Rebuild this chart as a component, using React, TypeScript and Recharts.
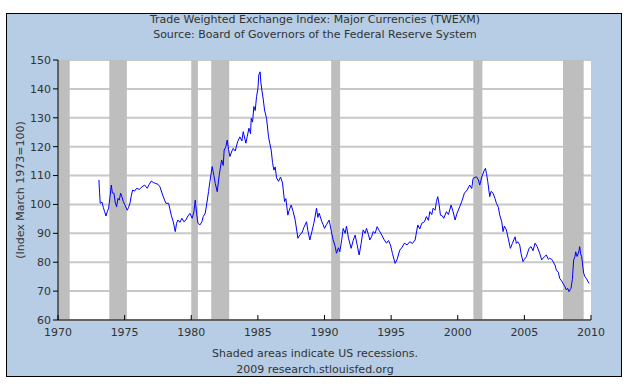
import { CartesianGrid, Line, LineChart, ReferenceArea, XAxis, YAxis } from "recharts";

const dates = [
  1973.07, 1973.12, 1973.17, 1973.3, 1973.4, 1973.5, 1973.6, 1973.7, 1973.8, 1973.9,
  1974.0, 1974.08, 1974.2, 1974.3, 1974.4, 1974.5, 1974.6, 1974.7, 1974.8, 1974.9,
  1975.05, 1975.2, 1975.3, 1975.4, 1975.5, 1975.6, 1975.75, 1975.9,
  1976.1, 1976.3, 1976.5, 1976.7, 1976.85, 1977.0, 1977.15, 1977.3, 1977.5, 1977.65, 1977.85,
  1978.0, 1978.1, 1978.3, 1978.5, 1978.65, 1978.8, 1978.9,
  1979.0, 1979.15, 1979.3, 1979.45, 1979.6, 1979.75, 1979.9,
  1980.07, 1980.2, 1980.3, 1980.4, 1980.5, 1980.65, 1980.8, 1980.9,
  1981.05, 1981.15, 1981.3, 1981.4, 1981.57, 1981.7, 1981.8, 1981.95,
  1982.1, 1982.28, 1982.4, 1982.47, 1982.6, 1982.7, 1982.8, 1982.9,
  1983.05, 1983.15, 1983.3, 1983.48, 1983.65, 1983.8, 1983.9,
  1984.1, 1984.2, 1984.33, 1984.45, 1984.5, 1984.6, 1984.7, 1984.8, 1984.9,
  1985.0, 1985.07, 1985.17, 1985.23, 1985.3, 1985.4, 1985.5, 1985.65, 1985.8, 1985.9,
  1986.0, 1986.1, 1986.2, 1986.3, 1986.4, 1986.55, 1986.7, 1986.85,
  1987.0, 1987.1, 1987.25, 1987.35, 1987.5, 1987.65, 1987.8, 1987.9,
  1988.0, 1988.15, 1988.3, 1988.45, 1988.65, 1988.75, 1988.9,
  1989.05, 1989.2, 1989.3, 1989.4, 1989.5, 1989.6, 1989.8, 1989.9,
  1990.0, 1990.15, 1990.35, 1990.5, 1990.65, 1990.8, 1990.9,
  1991.05, 1991.15, 1991.3, 1991.4, 1991.55, 1991.65, 1991.8,
  1992.0, 1992.15, 1992.3, 1992.45, 1992.6, 1992.75, 1992.9,
  1993.05, 1993.15, 1993.3, 1993.4, 1993.55, 1993.65, 1993.8, 1993.95,
  1994.1, 1994.3, 1994.45, 1994.65, 1994.8, 1994.95,
  1995.1, 1995.3, 1995.45, 1995.65, 1995.8,
  1996.0, 1996.2, 1996.4, 1996.6, 1996.8,
  1997.0, 1997.15, 1997.3, 1997.5, 1997.65, 1997.8, 1997.9,
  1998.05, 1998.15, 1998.3, 1998.4, 1998.5, 1998.6, 1998.7, 1998.85, 1998.95,
  1999.15, 1999.3, 1999.5, 1999.65, 1999.8, 1999.95,
  2000.15, 2000.3, 2000.5, 2000.7, 2000.9,
  2001.05, 2001.15, 2001.4, 2001.55, 2001.65, 2001.8,
  2002.0, 2002.08, 2002.15, 2002.25, 2002.4, 2002.5, 2002.65, 2002.8, 2002.9,
  2003.05, 2003.15, 2003.3, 2003.4, 2003.5, 2003.65, 2003.8, 2003.95,
  2004.1, 2004.3, 2004.4, 2004.5, 2004.65, 2004.75, 2004.9,
  2005.0, 2005.15, 2005.35, 2005.5, 2005.65, 2005.8, 2005.95,
  2006.15, 2006.3, 2006.5, 2006.65, 2006.8, 2006.9,
  2007.05, 2007.15, 2007.3, 2007.4, 2007.55, 2007.65, 2007.8, 2007.9,
  2008.05, 2008.15, 2008.25, 2008.35, 2008.5, 2008.6, 2008.7, 2008.8, 2008.85, 2008.95,
  2009.0, 2009.1, 2009.15, 2009.22, 2009.3, 2009.4, 2009.45, 2009.55, 2009.65, 2009.75, 2009.85,
];

const values = [
  108.5, 104.0, 100.4, 100.8, 99.0, 97.5, 96.0, 97.5, 98.7, 102.5,
  106.7, 104.0, 103.9, 100.5, 99.2, 102.1, 101.5, 103.9, 102.6, 101.0,
  99.5, 98.0, 99.0, 100.4, 103.0, 105.0, 104.6, 105.6,
  105.2, 106.1, 106.7, 105.6, 107.0, 108.1, 107.6, 107.3, 107.0, 106.1, 103.3,
  101.5, 100.4, 100.4, 96.3, 94.0, 90.6, 93.5,
  94.6, 93.8, 95.2, 94.0, 94.6, 96.0, 96.9,
  95.2, 97.5, 101.5, 97.0, 93.5, 92.9, 94.0, 95.8,
  97.0, 99.8, 104.5, 107.9, 113.1, 110.0, 107.3, 104.4,
  110.2, 115.4, 113.5, 118.8, 120.0, 122.3, 119.0, 116.6,
  118.5, 119.4, 118.5, 121.7, 123.4, 122.0, 125.2,
  121.2, 123.5, 126.4, 124.5, 129.8, 128.5, 133.9, 132.5, 137.3,
  140.0, 144.8, 145.9, 142.0, 139.6, 136.5, 132.7, 129.8, 123.4, 121.0,
  118.8, 114.5, 111.9, 113.0, 109.2, 108.0, 109.5, 107.4,
  101.0, 102.0, 96.3, 98.0, 99.8, 97.5, 94.6, 91.5,
  88.3, 89.5, 90.1, 92.0, 94.0, 91.0, 87.7,
  90.5, 93.5, 96.0, 98.7, 95.5, 97.0, 94.0, 93.0,
  91.7, 93.0, 94.6, 91.0, 87.7, 85.5, 83.1,
  85.0, 83.6, 88.0, 91.7, 90.0, 92.5, 88.3,
  84.8, 87.5, 89.4, 86.0, 82.5, 86.5, 91.2,
  90.0, 91.7, 89.5, 87.7, 89.0, 90.6, 90.0, 92.3,
  91.0, 89.4, 88.0, 86.6, 87.5, 86.0,
  83.0, 79.6, 81.0, 84.2, 85.0,
  86.6, 86.0, 87.1, 86.5, 87.7,
  92.9, 91.5, 93.5, 94.0, 95.8, 94.5, 97.5,
  96.5, 98.7, 98.0, 101.0, 102.7, 100.0, 96.3, 96.0, 95.2,
  97.5, 96.5, 99.8, 97.5, 94.6, 97.0,
  99.2, 101.0, 103.9, 105.0, 106.7,
  105.5, 109.0, 109.6, 108.5, 106.7, 109.5,
  111.9, 112.5, 110.8, 108.0, 102.7, 104.5, 103.9, 102.0, 100.4,
  99.0, 96.3, 94.0, 90.6, 92.5, 91.2, 88.0, 84.8,
  86.5, 88.8, 86.5, 87.1, 86.0, 83.0, 80.2,
  81.0, 81.9, 84.8, 85.4, 84.0, 86.6, 85.5,
  83.1, 80.8, 81.9, 82.5, 81.0, 81.4,
  81.0, 80.2, 79.0, 77.3, 76.5, 74.4, 73.5, 72.7,
  71.5, 70.4, 71.0, 69.8, 71.0, 74.0, 80.8, 82.0, 83.6, 82.0,
  82.5, 84.0, 85.4, 83.0, 81.9, 78.0, 76.2, 75.0, 74.4, 73.5, 72.7,
];

// US recessions (start, end) in decimal years
const recessionStarts = [1969.95, 1973.85, 1980.0, 1981.5, 1990.5, 2001.17, 2007.9];
const recessionEnds = [1970.88, 1975.17, 1980.5, 1982.85, 1991.17, 2001.85, 2009.45];

const xTicks = [1970, 1975, 1980, 1985, 1990, 1995, 2000, 2005, 2010];
const yTicks = [60, 70, 80, 90, 100, 110, 120, 130, 140, 150];

const data = dates.map((d, i) => ({ date: d, value: values[i] }));

const font = "'DejaVu Sans', Verdana, sans-serif";
const textColor = "#333";

function BottomTick({ x, y, payload }: any) {
  // ticks point up into the plot, label sits below the axis line
  const axisY = y - 8;
  return (
    <g>
      <line x1={x} x2={x} y1={axisY} y2={axisY - 5} stroke="#000" />
      <text x={x} y={axisY + 8} dy="0.71em" textAnchor="middle" fontSize={11} fill={textColor} fontFamily={font}>
        {payload.value}
      </text>
    </g>
  );
}

export default function App() {
  return (
    <div style={{ position: "absolute", left: 0, top: 0, width: 630, height: 387, background: "#fff" }}>
      <div
        style={{
          position: "absolute",
          left: 6,
          top: 13,
          width: 614,
          height: 362,
          background: "#B6CDE5",
          border: "1px solid #000",
        }}
      />
      <div
        style={{
          position: "absolute",
          left: 0,
          top: 12,
          width: 630,
          textAlign: "center",
          fontFamily: font,
          fontSize: 11,
          lineHeight: "15px",
          color: textColor,
        }}
      >
        Trade Weighted Exchange Index: Major Currencies (TWEXM)
        <br />
        Source: Board of Governors of the Federal Reserve System
      </div>
      <div
        style={{
          position: "absolute",
          left: 0,
          top: 346,
          width: 630,
          textAlign: "center",
          fontFamily: font,
          fontSize: 11,
          lineHeight: "16px",
          color: textColor,
        }}
      >
        Shaded areas indicate US recessions.
        <br />
        2009 research.stlouisfed.org
      </div>
      <div style={{ position: "absolute", left: 0, top: 0 }}>
        <LineChart width={630} height={387} data={data} margin={{ top: 60, right: 39, bottom: 37, left: 0 }}>
          <CartesianGrid vertical={false} fill="#fff" stroke="#C8C8C8" strokeWidth={2} strokeOpacity={1} />
          {recessionStarts.map((s, i) => (
            <ReferenceArea
              key={s}
              x1={s}
              x2={recessionEnds[i]}
              y1={60}
              y2={150}
              fill="#BEBEBE"
              fillOpacity={1}
              stroke="none"
              ifOverflow="hidden"
            />
          ))}
          <XAxis
            dataKey="date"
            type="number"
            domain={[1970, 2010]}
            ticks={xTicks}
            height={30}
            axisLine={{ stroke: "#000" }}
            tickLine={false}
            tick={<BottomTick />}
            interval={0}
          />
          <YAxis
            type="number"
            domain={[60, 150]}
            ticks={yTicks}
            width={58}
            interval={0}
            axisLine={{ stroke: "#000" }}
            tickLine={{ stroke: "#000" }}
            tickSize={5}
            tick={{ fontSize: 11, fill: textColor, fontFamily: font }}
            label={{
              value: "(Index March 1973=100)",
              angle: -90,
              position: "insideLeft",
              offset: 20,
              style: { textAnchor: "middle", fontSize: 11, fill: textColor, fontFamily: font },
            }}
          />
          <Line
            dataKey="value"
            type="linear"
            stroke="#0000FF"
            strokeWidth={1}
            dot={false}
            isAnimationActive={false}
          />
        </LineChart>
      </div>
    </div>
  );
}
